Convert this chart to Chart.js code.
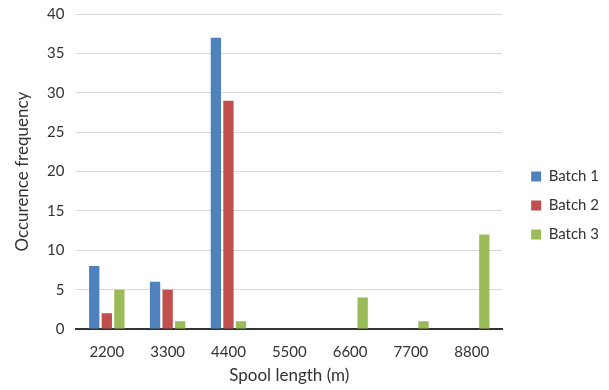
<!DOCTYPE html>
<html>
<head>
<meta charset="utf-8">
<script src="https://cdn.jsdelivr.net/npm/chart.js@4"></script>
<style>
html,body{margin:0;padding:0;background:#fff;}
#wrap{width:609px;height:390px;position:relative;}
</style>
</head>
<body>
<div id="wrap"><canvas id="c"></canvas></div>
<script>
const categories=['2200','3300','4400','5500','6600','7700','8800'];
const batch1=[8,6,37,0,0,0,0];
const batch2=[2,5,29,0,0,0,0];
const batch3=[5,1,1,0,4,1,12];
const seriesNames=['Batch 1','Batch 2','Batch 3'];
const colors=['#4f81bd','#c0504d','#9bbb59'];

const font='Lato, "Open Sans", sans-serif';

// push the legend a bit further right of and lower than its default spot
const legendShift={
  id:'legendShift',
  afterLayout(chart){
    const lg=chart.legend;
    lg.left+=15; lg.right+=15;
    lg.top+=6; lg.bottom+=6;
  }
};

new Chart(document.getElementById('c'),{
  type:'bar',
  data:{
    labels:categories,
    datasets:[batch1,batch2,batch3].map((d,i)=>({
      label:seriesNames[i], data:d, backgroundColor:colors[i],
      categoryPercentage:0.62, barPercentage:0.82
    }))
  },
  options:{
    responsive:true, maintainAspectRatio:false, animation:false,
    layout:{padding:{top:13,right:15,left:10,bottom:4}},
    plugins:{
      legend:{
        position:'right',
        labels:{boxWidth:10,boxHeight:10,padding:14,color:'#333',font:{family:font,size:15}}
      },
      tooltip:{enabled:false}
    },
    scales:{
      y:{
        min:0,max:40,
        ticks:{stepSize:5,color:'#333',font:{family:font,size:15,lineHeight:0.3},padding:12},
        grid:{color:'#d9d9d9',drawTicks:false},
        border:{display:false},
        title:{display:true,text:'Occurence frequency',color:'#333',font:{family:font,size:17,lineHeight:1},padding:{top:4,bottom:4}}
      },
      x:{
        ticks:{color:'#333',font:{family:font,size:15},padding:14},
        grid:{display:false,drawTicks:false},
        border:{color:'#333',width:2},
        title:{display:true,text:'Spool length (m)',color:'#333',font:{family:font,size:17,lineHeight:1},padding:{top:-8,bottom:2}}
      }
    }
  },
  plugins:[legendShift]
});
</script>
</body>
</html>
